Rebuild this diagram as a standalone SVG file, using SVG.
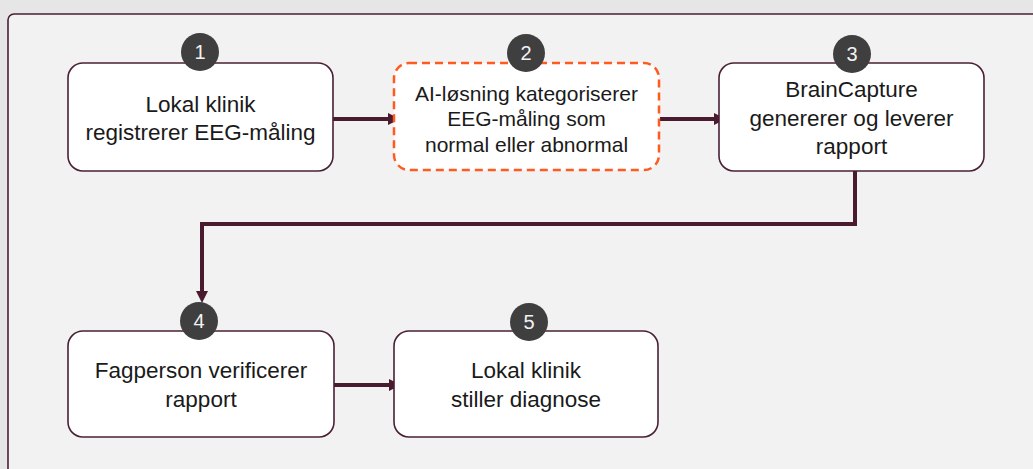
<svg xmlns="http://www.w3.org/2000/svg" width="1033" height="469" viewBox="0 0 1033 469">
<style>
.node{fill:#ffffff;stroke:#4a2035;stroke-width:1.6}
.dash{fill:#ffffff;stroke:#ff5a1f;stroke-width:2.5;stroke-dasharray:8 5}
.lbl{font-family:"Liberation Sans",Arial,sans-serif;font-size:22.5px;fill:#1a1a1a;text-anchor:middle}
.lbl2{font-family:"Liberation Sans",Arial,sans-serif;font-size:21px;fill:#1a1a1a;text-anchor:middle}
.badge{fill:#3f3f3f}
.num{font-family:"Liberation Sans",Arial,sans-serif;font-size:20px;fill:#f2f2f2;text-anchor:middle}
.conn{fill:none;stroke:#4a1a2e;stroke-width:4;marker-end:url(#arr)}
</style>
<defs>
<marker id="arr" markerUnits="userSpaceOnUse" markerWidth="12" markerHeight="12" refX="4" refY="6" orient="auto">
<path d="M0,0 L12,6 L0,12 z" fill="#4a1a2e"/>
</marker>
</defs>
<rect x="0" y="0" width="1033" height="469" fill="#e6e6e6"/>
<rect x="8" y="14" width="1050" height="480" rx="6" fill="#f2f2f2" stroke="#4a2035" stroke-width="1.6"/>
<g id="connectors">
<path class="conn" d="M333 119 H392"/>
<path class="conn" d="M660 119 H718"/>
<path class="conn" d="M855 171 V224 H202 V295"/>
<path class="conn" d="M334 385 H393"/>
</g>
<g id="node1">
<rect class="node" x="68" y="63" width="265" height="108" rx="15"/>
<text class="lbl" x="200.5" y="112">Lokal klinik</text>
<text class="lbl" x="200.5" y="140">registrerer EEG-måling</text>
<circle class="badge" cx="200" cy="52" r="19"/>
<text class="num" x="200" y="59">1</text>
</g>
<g id="node2">
<rect class="dash" x="394" y="63" width="265" height="107" rx="15"/>
<text class="lbl2" x="526.5" y="100.5">AI-løsning kategoriserer</text>
<text class="lbl2" x="526.5" y="126">EEG-måling som</text>
<text class="lbl2" x="526.5" y="151.5">normal eller abnormal</text>
<circle class="badge" cx="526" cy="53" r="19"/>
<text class="num" x="526" y="60">2</text>
</g>
<g id="node3">
<rect class="node" x="719" y="63" width="265" height="108" rx="15"/>
<text class="lbl" x="851.5" y="97">BrainCapture</text>
<text class="lbl" x="851.5" y="125.5">genererer og leverer</text>
<text class="lbl" x="851.5" y="154">rapport</text>
<circle class="badge" cx="852" cy="54" r="19"/>
<text class="num" x="852" y="61">3</text>
</g>
<g id="node4">
<rect class="node" x="68" y="331" width="266" height="106" rx="15"/>
<text class="lbl" x="201" y="378">Fagperson verificerer</text>
<text class="lbl" x="201" y="407">rapport</text>
<circle class="badge" cx="199" cy="321" r="19"/>
<text class="num" x="199" y="328">4</text>
</g>
<g id="node5">
<rect class="node" x="394" y="331" width="264" height="106" rx="15"/>
<text class="lbl" x="526" y="378">Lokal klinik</text>
<text class="lbl" x="526" y="407">stiller diagnose</text>
<circle class="badge" cx="529" cy="322" r="19"/>
<text class="num" x="529" y="329">5</text>
</g>
</svg>
